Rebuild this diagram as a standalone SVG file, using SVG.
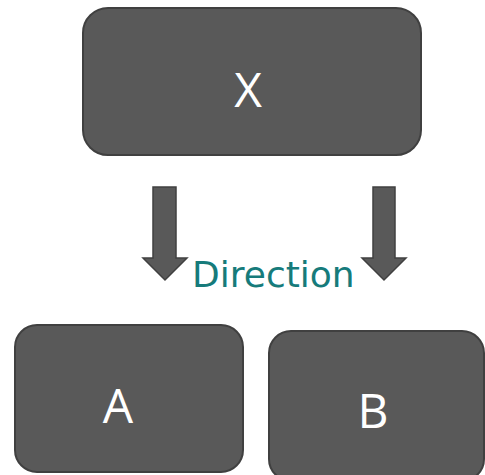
<svg xmlns="http://www.w3.org/2000/svg" width="485" height="475" viewBox="0 0 485 475">
<style>
.box{fill:#595959;stroke:#404040;stroke-width:2}
.lbl{font-family:"Open Sans","Liberation Sans",sans-serif;font-size:48px;fill:#ffffff;text-anchor:middle}
.arr{fill:#595959;stroke:#404040;stroke-width:1.5}
.dir{font-family:"DejaVu Sans","Liberation Sans",sans-serif;font-size:36px;fill:#167b7b}
</style>
<rect width="485" height="475" fill="#ffffff"/>
<g id="X"><rect class="box" x="83" y="8" width="338" height="147" rx="25"/><text class="lbl" x="248" y="107">X</text></g>
<g id="connectors">
<path class="arr" d="M153,187 H176 V258 H187 L165,280 L143,258 H153 Z"/>
<path class="arr" d="M373,187 H395 V258 H406 L384,280 L362,258 H373 Z"/>
</g>
<text class="dir" x="192" y="287">Direction</text>
<g id="A"><rect class="box" x="15" y="325" width="228" height="147" rx="22"/><text class="lbl" x="118" y="423">A</text></g>
<g id="B"><rect class="box" x="269" y="331" width="215" height="150" rx="22"/><text class="lbl" x="373" y="428">B</text></g>
</svg>
